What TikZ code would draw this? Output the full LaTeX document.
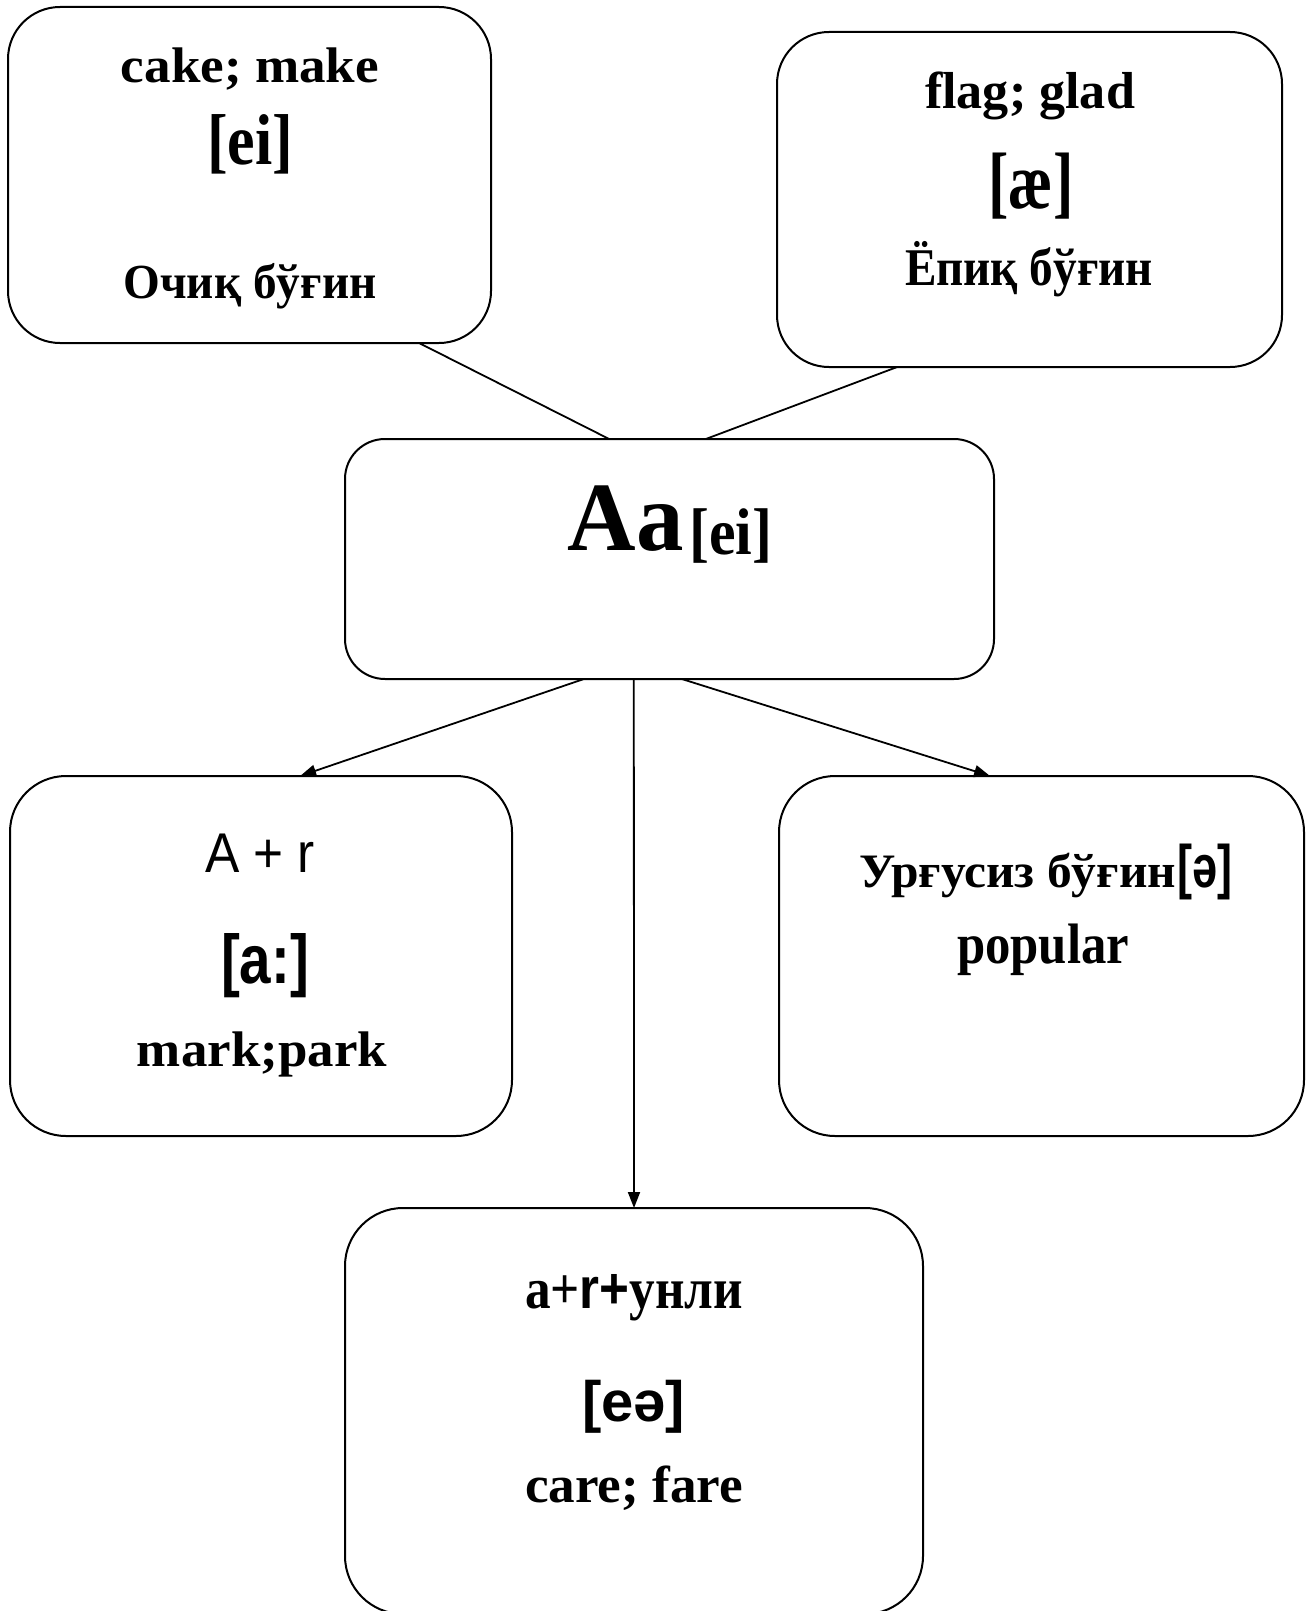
\documentclass[tikz,border=0pt]{standalone}
\usepackage{fontspec}
\usepackage{graphicx}
\setmainfont{Liberation Serif}
\newfontfamily\arialf{Liberation Sans}
\usetikzlibrary{arrows.meta,calc}
\newcommand{\fs}[1]{\fontsize{#1}{#1}\selectfont}
\newcommand{\rs}[2]{\resizebox{#1pt}{\height}{#2}}
\tikzset{
  box/.style={draw=black, line width=2pt, rounded corners=#1, inner sep=0pt, outer sep=0pt, fill=white},
  box/.default=52pt,
  txt/.style={anchor=base, inner sep=0pt, outer sep=0pt},
  link/.style={draw=black, line width=1.8pt},
  arr/.style={link, -{Triangle[length=16pt,width=12pt]}}
}
\begin{document}
\begin{tikzpicture}[x=1pt,y=-1pt]
\useasboundingbox (0,0) rectangle (1307,1611);
% boxes
\node[box, minimum width=483pt, minimum height=336pt] (b1) at (249.5,175) {};
\node[box, minimum width=505pt, minimum height=335pt] (b2) at (1029.5,199.5) {};
\node[box=40pt, minimum width=649pt, minimum height=240pt] (c) at (669.5,559) {};
\node[box=56pt, minimum width=502pt, minimum height=360pt] (b3) at (261,956) {};
\node[box=56pt, minimum width=525pt, minimum height=360pt] (b4) at (1041.5,956) {};
\node[box=58pt, minimum width=578pt, minimum height=406pt] (b5) at (634,1411) {};
% connectors
\draw[link] ($(b1.south west)!0.851!(b1.south east)$) -- ($(c.north west)!0.407!(c.north east)$);
\draw[link] ($(b2.south west)!0.238!(b2.south east)$) -- ($(c.north west)!0.556!(c.north east)$);
\draw[arr] ($(c.south west)!0.368!(c.south east)$) -- ($(b3.north west)!0.578!(b3.north east)$);
\draw[arr] ($(c.south west)!0.519!(c.south east)$) -- ($(b4.north west)!0.402!(b4.north east)$);
\draw[arr] ($(c.south west)!0.445!(c.south east)$) -- ($(b5.north west)!0.5!(b5.north east)$);
% box 1 texts
\node[txt] (t1a) at (250,83) {\rs{258}{\fs{50}\bfseries cake; make}};
\node[txt] (t1b) at (250,164) {\rs{86}{\fs{72}\bfseries [ei]}};
\node[txt] (t1c) at (250,298) {\rs{253}{\fs{49}\bfseries Очиқ бўғин}};
% box 2 texts
\node[txt] (t2a) at (1030,108) {\rs{210}{\fs{52}\bfseries flag; glad}};
\node[txt] (t2b) at (1031,208) {\rs{85}{\fs{80}\bfseries [æ]}};
\node[txt] (t2c) at (1029,285) {\rs{248}{\fs{53}\bfseries Ёпиқ бўғин}};
% centre
\node[txt] (tc) at (670,550) {\rs{116}{\fs{98}\bfseries Aa}\hspace{6pt}\raisebox{-4pt}{\rs{83}{\fs{66}\bfseries [ei]}}};
% box 3 texts
\node[txt] (t3a) at (260,872) {\rs{110}{\fs{56}\arialf A + r}};
\node[txt] (t3b) at (265,983) {\rs{88}{\fs{69}\arialf\bfseries [a:]}};
\node[txt] (t3c) at (262,1066) {\rs{250}{\fs{50}\bfseries mark;park}};
% box 4 texts
\node[txt] (t4a) at (1045.5,887) {\rs{317}{\fs{48}\bfseries Урғусиз бўғин}\hspace{1pt}\rs{55}{\fs{60}\arialf\bfseries [ə]}};
\node[txt] (t4b) at (1043,963) {\rs{172}{\fs{57}\bfseries popular}};
% box 5 texts
\node[txt] (t5a) at (634,1308) {\rs{218}{\fs{58}\bfseries a+{\arialf r+}унли}};
\node[txt] (t5b) at (633.5,1421) {\rs{103}{\fs{57}\arialf\bfseries [eə]}};
\node[txt] (t5c) at (634,1502) {\rs{218}{\fs{52}\bfseries care; fare}};
\end{tikzpicture}
\end{document}
